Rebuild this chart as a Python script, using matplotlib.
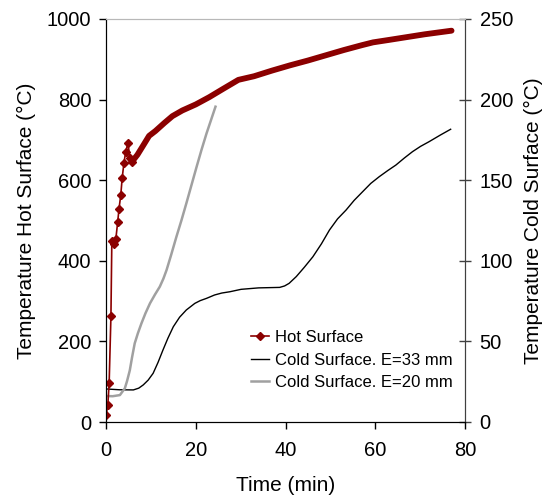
import matplotlib
matplotlib.use("Agg")
import matplotlib.pyplot as plt

plt.rcParams['font.family'] = ['Liberation Sans', 'DejaVu Sans']

# Hot surface (left axis, degC)
hot_t = [0, 0.4, 0.7, 1.1, 1.3, 1.8, 2.2, 2.6, 2.9, 3.3, 3.6, 4.0, 4.4, 4.9,
         5.3, 5.8, 7, 8.5, 9.6, 11, 13, 14.8, 17, 20, 23, 26, 29.5, 33, 37,
         41, 45, 49, 53, 57, 59.5, 63, 67, 71, 75, 77]
hot_T = [17, 41, 96, 263, 450, 442, 455, 496, 529, 564, 605, 643, 671, 693,
         655, 646, 663, 690, 710, 722, 742, 759, 773, 788, 806, 826, 849, 858, 872,
         885, 897, 910, 923, 935, 942, 948, 955, 962, 968, 971]

# Cold surface E=33 mm (right axis)
c33_t = [0, 3, 6.1, 7.3, 8.3, 9.4, 10.5, 11.6, 12.7, 13.8, 15, 16.4, 17.9, 19.8,
         21, 22.4, 24.2, 25.8, 27.6, 30.1, 34, 38.7, 39.8, 40.8, 42.4, 44.2, 46.1,
         48, 49.8, 51.6, 53.5, 55.3, 57.2, 59, 60.9, 62.8, 64.6, 66.5, 68.3, 70.1,
         72, 74.5, 76.8]
c33_T = [20.5, 20, 19.9, 21, 23, 26, 30.2, 37, 44.7, 52, 59.1, 65, 69.5, 73.6,
         75.3, 76.7, 78.8, 80, 80.8, 82.3, 83.2, 83.5, 84.4, 86, 90.2, 96, 102.5,
         110.5, 119.1, 126, 131.5, 137.5, 142.9, 148, 152.2, 156, 159.4, 163.8, 167.7, 171,
         173.9, 178, 181.6]

# Cold surface E=20 mm (right axis)
c20_t = [0.1, 1.5, 3.1, 4.2, 4.7, 5.3, 5.8, 6.4, 7.1, 7.9, 8.8, 9.8, 10.9, 12,
         12.8, 13.5, 14.5, 15.7, 16.8, 17.9, 19, 20.2, 21.3, 22.4, 24.4]
c20_T = [16.1, 16, 16.7, 20.9, 25.5, 32, 40, 48.8, 55, 61.2, 67.5, 73.6, 79, 84,
         89, 94.3, 103.5, 115, 125, 135.6, 146.5, 158.4, 169, 179, 195.6]

red = '#8B0000'

fig = plt.figure(figsize=(5.45, 4.97), dpi=100)
ax = fig.add_axes([106/545, 1-422/497, 359/545, 403/497])
ax2 = ax.twinx()

h1, = ax.plot(hot_t, hot_T, color=red, marker='D', ms=4.5, lw=1.2,
              markevery=list(range(16)), label='Hot Surface')
ax.plot(hot_t[14:], hot_T[14:], color=red, lw=4.2, solid_capstyle='round',
        solid_joinstyle='round')
h2, = ax2.plot(c33_t, c33_T, color='black', lw=1.0, label='Cold Surface. E=33 mm')
h3, = ax2.plot(c20_t, c20_T, color='#a0a0a0', lw=1.8, label='Cold Surface. E=20 mm')

ax.set_zorder(ax2.get_zorder() + 1)
ax.patch.set_visible(False)

ax.set_xlim(0, 80)
ax.set_ylim(0, 1000)
ax2.set_ylim(0, 250)
ax.set_xticks([0, 20, 40, 60, 80])
ax.set_yticks([0, 200, 400, 600, 800, 1000])
ax2.set_yticks([0, 50, 100, 150, 200, 250])

ax.tick_params(axis='both', labelsize=14.5, length=5, width=1, direction='out')
ax.tick_params(axis='y', pad=5.5)
ax.tick_params(axis='x', pad=8.5)
ax2.tick_params(axis='y', labelsize=14.5, length=9, width=1, direction='inout',
                colors='#404040', labelcolor='black', pad=6)

for a in (ax, ax2):
    a.spines['top'].set_color('#b8b8b8')
    a.spines['left'].set_color('black')
    a.spines['bottom'].set_color('black')
    a.spines['right'].set_color('#404040')

ax.set_xlabel('Time (min)', fontsize=15, labelpad=12)
ax.set_ylabel('Temperature Hot Surface (°C)', fontsize=15, labelpad=8)
ax2.set_ylabel('Temperature Cold Surface (°C)', fontsize=15, labelpad=8)

ax.legend(handles=[h1, h2, h3], loc='upper left', bbox_to_anchor=(0.362, 0.265),
          frameon=False, fontsize=12, handlelength=1.1, handletextpad=0.35,
          labelspacing=0.45)

fig.savefig('out.png', dpi=100)
